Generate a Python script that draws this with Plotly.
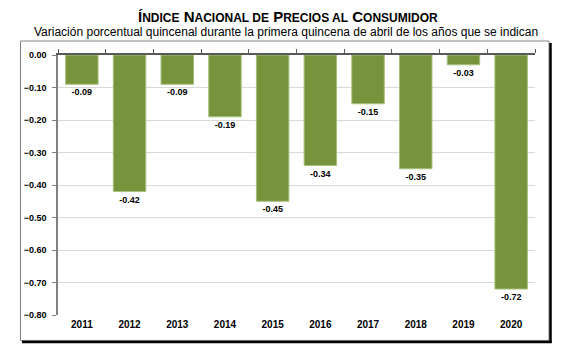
import plotly.graph_objects as go

years = ["2011", "2012", "2013", "2014", "2015", "2016", "2017", "2018", "2019", "2020"]
values = [-0.09, -0.42, -0.09, -0.19, -0.45, -0.34, -0.15, -0.35, -0.03, -0.72]
y_ticks = [0.0, -0.1, -0.2, -0.3, -0.4, -0.5, -0.6, -0.7, -0.8]

FONT = "Arial, Liberation Sans, sans-serif"
OFF = 8  # page body margin
PAGE_W, PAGE_H = 578, 358
W, H = PAGE_W - OFF, PAGE_H - OFF
# plot area in page pixels
PL, PR, PT, PB = 58, 535, 55, 315.5
L, T = PL - OFF, PT - OFF
R, B = PAGE_W - PR, PAGE_H - PB
pw, ph = PR - PL, PB - PT

def px(x):
    return (x - PL) / pw

def py(y):
    return (PB - y) / ph

fig = go.Figure()
fig.add_trace(go.Bar(
    x=years, y=values,
    marker=dict(color="#77933C", line=dict(color="#A6BF7A", width=1)),
    text=[f"{v:.2f}" for v in values],
    textposition="outside",
    textfont=dict(family=FONT, size=9, color="#000000", weight="bold"),
    cliponaxis=False,
    xaxis="x", yaxis="y",
))
fig.add_trace(go.Bar(x=years, y=[0]*len(years), xaxis="x2", yaxis="y",
                     showlegend=False, hoverinfo="skip", marker=dict(opacity=0)))

fig.update_layout(
    width=W, height=H,
    margin=dict(l=L, r=R, t=T, b=B, pad=0),
    paper_bgcolor="white", plot_bgcolor="white",
    showlegend=False,
    bargap=0.32,
    xaxis=dict(
        type="category", showline=False, ticks="", showgrid=False,
        tickfont=dict(family=FONT, size=10, color="#000000", weight="bold"),
        ticklabelstandoff=2,
    ),
    xaxis2=dict(
        type="category", overlaying="x", side="top", matches="x",
        showline=True, linecolor="#595959", linewidth=1.5,
        ticks="outside", tickson="boundaries", ticklen=4, tickcolor="#595959",
        showticklabels=False, showgrid=False,
    ),
    yaxis=dict(
        range=[-0.8, 0.0], tickvals=y_ticks, tickformat=".2f",
        showline=True, linecolor="#808080", linewidth=1.5,
        ticks="outside", ticklen=4, tickcolor="#808080",
        gridcolor="#D9D9D9", gridwidth=1,
        zeroline=False,
        tickfont=dict(family=FONT, size=9, color="#000000", weight="bold"),
        ticklabelstandoff=4,
    ),
    font=dict(family=FONT),
)

title = ("<b>Í<span style='font-size:12px'>NDICE</span> N<span style='font-size:12px'>ACIONAL DE</span> "
         "P<span style='font-size:12px'>RECIOS AL</span> C<span style='font-size:12px'>ONSUMIDOR</span></b>")
fig.add_annotation(text=title, xref="paper", yref="paper", x=px(288), y=py(16),
                   showarrow=False, xanchor="center", yanchor="middle",
                   font=dict(family=FONT, size=15, color="#000000"))
fig.add_annotation(text="Variación porcentual quincenal durante la primera quincena de abril de los años que se indican",
                   xref="paper", yref="paper", x=px(286), y=py(32), showarrow=False,
                   xanchor="center", yanchor="middle",
                   font=dict(family=FONT, size=12, color="#000000"))

# frame with shadow
fig.add_shape(type="rect", xref="paper", yref="paper", x0=px(20.5), x1=px(549), y0=py(341), y1=py(41),
              line=dict(color="#808080", width=1), layer="below")
fig.add_shape(type="line", xref="paper", yref="paper", x0=px(550.5), x1=px(550.5), y0=py(43), y1=py(343.5),
              line=dict(color="#000000", width=2.5))
fig.add_shape(type="line", xref="paper", yref="paper", x0=px(22), x1=px(551.7), y0=py(342.5), y1=py(342.5),
              line=dict(color="#000000", width=2.5))

fig.write_html("out.html")
